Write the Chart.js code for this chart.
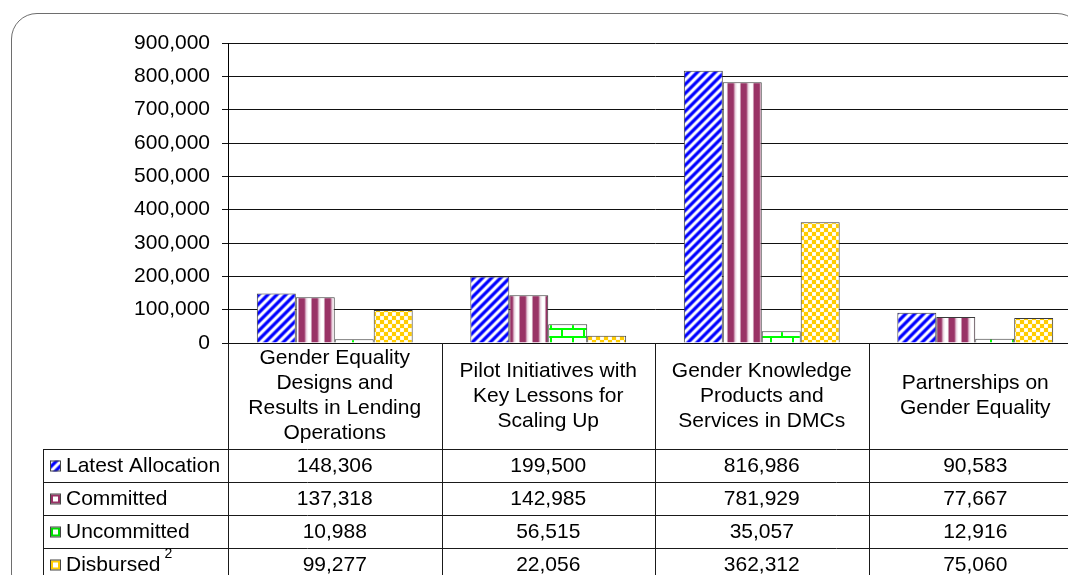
<!DOCTYPE html>
<html>
<head>
<meta charset="utf-8">
<script src="https://cdn.jsdelivr.net/npm/chart.js@4.4.0/dist/chart.umd.min.js"></script>
<style>
html,body{margin:0;padding:0;background:#fff;overflow:hidden;width:1068px;height:575px;}
#frame{position:absolute;left:11px;top:13px;width:1070px;height:585px;border:1.5px solid #6e6e6e;border-radius:26px;}
#chart{position:absolute;left:0;top:0;}
</style>
</head>
<body>
<div id="frame"></div>
<canvas id="chart" width="1100" height="575" style="width:1100px;height:575px"></canvas>
<script>
/* DATA */
const categories = [
  ["Gender Equality","Designs and","Results in Lending","Operations"],
  ["Pilot Initiatives with","Key Lessons for","Scaling Up"],
  ["Gender Knowledge","Products and","Services in DMCs"],
  ["Partnerships on","Gender Equality"]
];
const seriesNames = ["Latest Allocation","Committed","Uncommitted","Disbursed"];
const seriesNotes = ["","","","2"];
const latestAllocation = [148306,199500,816986,90583];
const committed = [137318,142985,781929,77667];
const uncommitted = [10988,56515,35057,12916];
const disbursed = [99277,22056,362312,75060];
const yTicks = [0,100000,200000,300000,400000,500000,600000,700000,800000,900000];

const FONT = "'Liberation Sans', Arial, sans-serif";
Chart.defaults.font.family = FONT;

/* PATTERNS */
const canvas = document.getElementById("chart");
const ctx = canvas.getContext("2d");

function tile(w, h, draw){
  const c = document.createElement("canvas");
  c.width = w; c.height = h;
  draw(c.getContext("2d"), w, h);
  return ctx.createPattern(c, "repeat");
}

const blueDiag = tile(9, 9, (g, w, h) => {
  g.fillStyle = "#0000ff"; g.fillRect(0, 0, w, h);
  g.lineCap = "square";
  [[4, "#8a8aff"], [2, "#ffffff"]].forEach(([lw, col]) => {
    g.strokeStyle = col; g.lineWidth = lw;
    g.beginPath();
    g.moveTo(-2, h + 2); g.lineTo(w + 2, -2);
    g.moveTo(-2, 2); g.lineTo(2, -2);
    g.moveTo(w - 2, h + 2); g.lineTo(w + 2, h - 2);
    g.stroke();
  });
});

const maroonStripe = tile(13, 4, (g, w, h) => {
  const grd = g.createLinearGradient(0, 0, w, 0);
  grd.addColorStop(0, "#993366");
  grd.addColorStop(0.4, "#993366");
  grd.addColorStop(0.55, "#e8cfdc");
  grd.addColorStop(0.7, "#ffffff");
  grd.addColorStop(0.88, "#ffffff");
  grd.addColorStop(1, "#b0668c");
  g.fillStyle = grd; g.fillRect(0, 0, w, h);
});

const greenBrick = tile(22, 16, (g, w, h) => {
  g.fillStyle = "#ffffff"; g.fillRect(0, 0, w, h);
  g.fillStyle = "#00ff00";
  g.fillRect(0, 0, w, 2);
  g.fillRect(0, 8, w, 2);
  g.fillRect(0, 2, 2, 6);
  g.fillRect(11, 10, 2, 6);
});

const yellowCheck = tile(8, 8, (g, w, h) => {
  g.fillStyle = "#ffcc00"; g.fillRect(0, 0, w, h);
  g.fillStyle = "#fff4c8";
  g.fillRect(0, 0, 4, 4); g.fillRect(4, 4, 4, 4);
  g.fillStyle = "#ffffff";
  g.fillRect(0.5, 0.5, 3, 3); g.fillRect(4.5, 4.5, 3, 3);
});

const fills = [blueDiag, maroonStripe, greenBrick, yellowCheck];
const edgeColors = ["#0000ff", "#993366", "#00dd00", "#ffcc00"];

/* TABLA DE DATOS */
const dataTable = {
  id: "dataTable",
  afterDraw(chart){
    const c = chart.ctx;
    const x = chart.scales.x;
    const area = chart.chartArea;
    const n = categories.length;
    const colW = x.width / n;
    const top = area.bottom;
    const headerBottom = top + 106;
    const rowH = 33;
    const tableBottom = headerBottom + rowH * seriesNames.length;
    const legendLeft = 43;

    c.save();
    c.strokeStyle = "#1a1a1a";
    c.lineWidth = 1;
    c.beginPath();
    for (let i = 0; i <= n; i++){
      const xx = Math.round(x.left + colW * i) + 0.5;
      c.moveTo(xx, top); c.lineTo(xx, tableBottom);
    }
    c.moveTo(legendLeft + 0.5, headerBottom); c.lineTo(legendLeft + 0.5, tableBottom);
    for (let r = 0; r <= seriesNames.length; r++){
      const yy = headerBottom + r * rowH + 0.5;
      c.moveTo(legendLeft, yy); c.lineTo(x.right + 30, yy);
    }
    c.stroke();

    c.fillStyle = "#000";
    c.font = "21px " + FONT;
    c.textAlign = "center";
    c.textBaseline = "middle";

    // encabezados
    const headMid = (top + headerBottom) / 2;
    categories.forEach((lines, i) => {
      const cx = x.getPixelForValue(i);
      lines.forEach((t, k) => {
        c.fillText(t, cx, headMid + (k - (lines.length - 1) / 2) * 25);
      });
    });

    // filas
    chart.data.datasets.forEach((ds, r) => {
      const mid = headerBottom + r * rowH + rowH / 2;
      c.textAlign = "center";
      c.font = "21px " + FONT;
      ds.data.forEach((v, i) => {
        c.fillText(v.toLocaleString("en-US"), x.getPixelForValue(i), mid + 1);
      });
      // leyenda
      c.fillStyle = "#fff";
      c.fillRect(50, mid - 5, 11, 11);
      c.fillStyle = fills[r];
      if (r === 0) c.fillRect(50, mid - 5, 11, 11);
      else {
        c.strokeStyle = edgeColors[r];
        c.lineWidth = 2;
        c.strokeRect(52, mid - 3, 7, 7);
        c.lineWidth = 1;
      }
      c.strokeStyle = "#444";
      c.strokeRect(50.5, mid - 4.5, 10, 10);
      c.fillStyle = "#000";
      c.textAlign = "left";
      c.fillText(seriesNames[r], 66, mid + 1);
      if (seriesNotes[r]){
        const w = c.measureText(seriesNames[r]).width;
        c.font = "14px " + FONT;
        c.fillText(seriesNotes[r], 66 + w + 4, mid - 10);
      }
    });
    c.restore();
  }
};

new Chart(canvas, {
  type: "bar",
  data: {
    labels: categories,
    datasets: [latestAllocation, committed, uncommitted, disbursed].map((d, i) => ({
      label: seriesNames[i],
      data: d,
      backgroundColor: fills[i],
      borderColor: "#3a3a3a",
      borderWidth: 1,
      categoryPercentage: 0.73,
      barPercentage: 1.0
    }))
  },
  options: {
    responsive: false,
    animation: false,
    layout: {padding: {left: 0, top: 43, right: 18, bottom: 232}},
    plugins: {legend: {display: false}, tooltip: {enabled: false}},
    scales: {
      x: {display: false},
      y: {
        min: 0, max: 900000,
        afterBuildTicks: s => { s.ticks = yTicks.map(v => ({value: v})); },
        afterFit: s => { s.width = 228; },
        ticks: {
          color: "#000",
          font: {size: 21},
          padding: 12,
          callback: v => v.toLocaleString("en-US")
        },
        grid: {color: "#111", tickLength: 6},
        border: {color: "#000", width: 1}
      }
    }
  },
  plugins: [dataTable]
});
</script>
</body>
</html>
